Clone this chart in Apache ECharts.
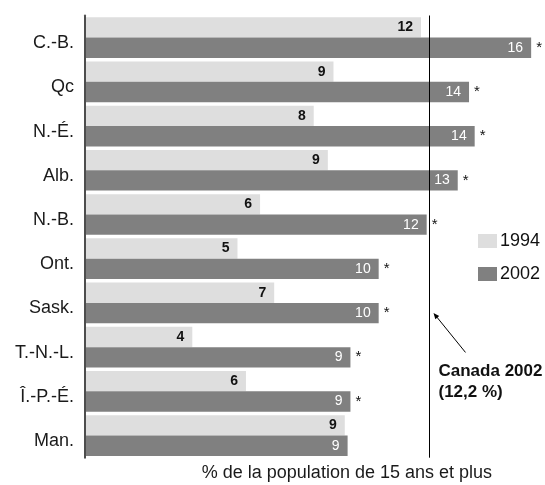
<!DOCTYPE html>
<html>
<head>
<meta charset="utf-8">
<script src="https://cdn.jsdelivr.net/npm/echarts@6/dist/echarts.min.js"></script>
<style>
html,body{margin:0;padding:0;background:#fff;}
#c{width:545px;height:485px;}
</style>
</head>
<body>
<div id="c"></div>
<script>
var categories = ['C.-B.', 'Qc', 'N.-É.', 'Alb.', 'N.-B.', 'Ont.', 'Sask.', 'T.-N.-L.', 'Î.-P.-É.', 'Man.'];
var values1994 = [11.9, 8.8, 8.1, 8.6, 6.2, 5.4, 6.7, 3.8, 5.7, 9.2];
var values2002 = [15.8, 13.6, 13.8, 13.2, 12.1, 10.4, 10.4, 9.4, 9.4, 9.3];
var significant2002 = [1, 1, 1, 1, 1, 1, 1, 1, 1, 0];
var canada2002 = 12.2;
var seriesNames = ['1994', '2002'];
var axisTitle = '% de la population de 15 ans et plus';
var noteLines = ['Canada 2002', '(12,2 %)'];

var FONT = '"Liberation Sans", Arial, sans-serif';
var chart = echarts.init(document.getElementById('c'), null, {renderer: 'canvas'});

var option = {
  animation: false,
  backgroundColor: '#ffffff',
  grid: {left: 85, right: 8.2, top: 15.5, bottom: 27.3, containLabel: false, outerBoundsMode: 'none'},
  legend: {
    data: seriesNames,
    orient: 'vertical',
    left: 478,
    top: 232,
    padding: 0,
    itemWidth: 19,
    itemHeight: 14,
    itemGap: 15,
    icon: 'rect',
    textStyle: {fontFamily: FONT, fontSize: 18, color: '#111', padding: [0, 0, 0, -2]}
  },
  xAxis: {
    type: 'value', min: 0, max: 16,
    axisLine: {show: false}, axisTick: {show: false}, axisLabel: {show: false}, splitLine: {show: false},
    name: axisTitle, nameLocation: 'middle', nameGap: 6,
    nameTextStyle: {fontFamily: FONT, fontSize: 18, color: '#1a1a1a', padding: [0, 0, 0, 72]}
  },
  yAxis: {
    type: 'category', data: categories, inverse: true, z: 5,
    axisLine: {show: true, lineStyle: {color: '#4d4d4d', width: 2}},
    axisTick: {show: false},
    axisLabel: {
      margin: 11,
      formatter: function (v) { return '{a|' + v + '}'; },
      rich: {a: {fontFamily: FONT, fontSize: 18, color: '#1a1a1a', padding: [11, 0, 0, 0]}}
    }
  },
  series: [
    {
      name: seriesNames[0], type: 'bar', stack: 'a', data: values1994,
      barCategoryGap: '8%', barGap: '0%',
      itemStyle: {color: '#dedede'},
      label: {show: true, position: 'insideRight', distance: 8,
        fontFamily: FONT, fontSize: 14, fontWeight: 'bold', color: '#111',
        formatter: function (p) { return String(Math.round(p.value)); }}
    },
    {
      name: seriesNames[1], type: 'bar', stack: 'b', data: values2002,
      barCategoryGap: '8%', barGap: '0%',
      itemStyle: {color: '#808080'},
      label: {show: true, position: 'insideRight', distance: 8,
        fontFamily: FONT, fontSize: 14, color: '#ffffff',
        formatter: function (p) { return String(Math.round(p.value)); }},
      markLine: {
        silent: true, symbol: 'none', animation: false,
        label: {show: false},
        lineStyle: {color: '#000', width: 1, type: 'solid'},
        emphasis: {disabled: true},
        data: [{xAxis: canada2002}]
      }
    },
    {
      name: 'sig', type: 'bar', stack: 'b',
      data: significant2002.map(function () { return 0; }),
      barCategoryGap: '8%', barGap: '0%',
      itemStyle: {color: 'rgba(0,0,0,0)'},
      silent: true,
      label: {show: true, position: 'right', distance: 5,
        fontFamily: FONT, fontSize: 15, color: '#111',
        formatter: function (p) { return significant2002[p.dataIndex] ? '*' : ''; }}
    }
  ]
};
chart.setOption(option);

var cx = chart.convertToPixel({xAxisIndex: 0}, canada2002);
var sy = chart.convertToPixel({yAxisIndex: 0}, 'Sask.');
var hx = cx + 4, hy = sy + 10, tx = cx + 36, ty = sy + 49.5;
var dx = hx - tx, dy = hy - ty, L = Math.sqrt(dx * dx + dy * dy);
var ux = dx / L, uy = dy / L;
var ah = 6, aw = 2.5;
chart.setOption({
  graphic: [
    {type: 'line', silent: true, shape: {x1: tx, y1: ty, x2: hx - ux * 3, y2: hy - uy * 3},
      style: {stroke: '#000', lineWidth: 1}},
    {type: 'polygon', silent: true,
      shape: {points: [[hx, hy],
        [hx - ux * ah - uy * aw, hy - uy * ah + ux * aw],
        [hx - ux * ah + uy * aw, hy - uy * ah - ux * aw]]},
      style: {fill: '#000'}},
    {type: 'text', silent: true, x: cx + 9, y: sy + 68,
      style: {text: noteLines[0], font: 'bold 17px ' + FONT, fill: '#111', verticalAlign: 'middle', align: 'left'}},
    {type: 'text', silent: true, x: cx + 9, y: sy + 89,
      style: {text: noteLines[1], font: 'bold 17px ' + FONT, fill: '#111', verticalAlign: 'middle', align: 'left'}}
  ]
});
</script>
</body>
</html>
